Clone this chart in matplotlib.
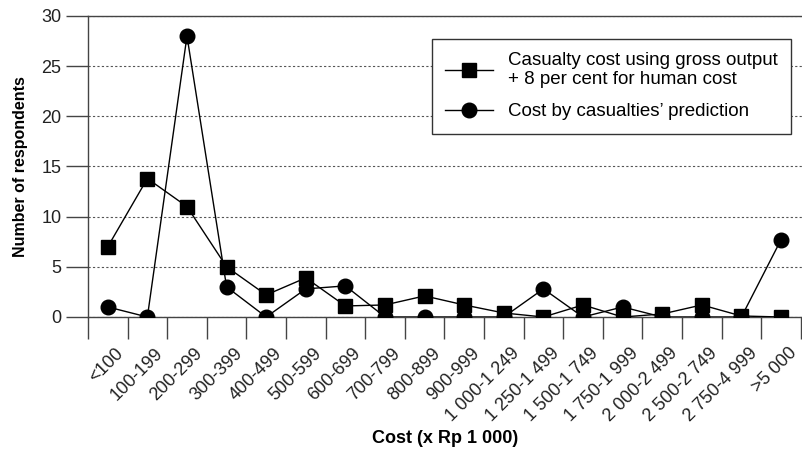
import matplotlib.pyplot as plt
from matplotlib.ticker import FixedLocator
from matplotlib.transforms import ScaledTranslation

plt.rcParams["font.family"] = ["Liberation Sans", "DejaVu Sans"]

categories = [
    "<100", "100-199", "200-299", "300-399", "400-499", "500-599",
    "600-699", "700-799", "800-899", "900-999", "1 000-1 249",
    "1 250-1 499", "1 500-1 749", "1 750-1 999", "2 000-2 499",
    "2 500-2 749", "2 750-4 999", ">5 000",
]
gross_output = [7, 13.8, 11, 5, 2.2, 3.9, 1.1, 1.2, 2.1, 1.2, 0.4,
                0, 1.2, 0, 0.3, 1.2, 0.1, 0]
casualty_pred = [1, 0, 28, 3, 0, 2.8, 3.1, 0, 0, 0, 0,
                 2.8, 0, 1, 0, 0, 0, 7.7]

label_gross = "Casualty cost using gross output\n+ 8 per cent for human cost"
label_pred = "Cost by casualties\u2019 prediction"

fig = plt.figure(figsize=(8.02, 4.49), dpi=100)
ax = fig.add_axes([0.1097, 0.294, 0.8903, 0.6704])

x = list(range(len(categories)))
ax.plot(x, gross_output, color="black", lw=1, marker="s", ms=9.5,
        label=label_gross, zorder=3)
ax.plot(x, casualty_pred, color="black", lw=1, marker="o", ms=10.5,
        label=label_pred, zorder=3)

ax.set_xlim(-0.5, 17.53)
ax.set_ylim(0, 30)
ax.set_yticks(range(0, 31, 5))
ax.yaxis.grid(True, linestyle=(0, (2, 2)), color="#555555", lw=0.8)
ax.set_axisbelow(True)

# category labels sit between the boundary ticks
ax.xaxis.set_major_locator(FixedLocator(x))
ax.set_xticklabels(categories, rotation=45, ha="right", va="top",
                   rotation_mode="anchor", fontsize=13, color="#222222")
ax.xaxis.set_minor_locator(FixedLocator([i + 0.5 for i in range(-1, 18)]))
ax.tick_params(axis="x", which="major", length=0, pad=20)
ax.tick_params(axis="x", which="minor", length=16, width=1, color="#444444")
ax.tick_params(axis="y", length=16, width=1, color="#444444", labelsize=13,
               labelcolor="#222222", pad=3)
for lab in ax.get_xticklabels():
    lab.set_transform(lab.get_transform() + ScaledTranslation(0.07, 0, fig.dpi_scale_trans))

for side in ["left", "bottom", "top"]:
    ax.spines[side].set_color("#444444")
    ax.spines[side].set_linewidth(1)
ax.spines["right"].set_visible(False)

ax.set_ylabel("Number of respondents", fontsize=11.5, fontweight="bold", labelpad=10)
ax.set_xlabel("Cost (x Rp 1 000)", fontsize=13, fontweight="bold")
ax.xaxis.set_label_coords(0.5, -0.375)

leg = ax.legend(loc="upper right", bbox_to_anchor=(0.985, 0.925), fontsize=13.5,
                frameon=True, fancybox=False, edgecolor="#333333",
                borderpad=0.7, labelspacing=0.8, handlelength=2.6,
                handletextpad=0.8, borderaxespad=0)
leg.get_frame().set_linewidth(1)
leg.get_frame().set_alpha(1)

fig.savefig("out.png", dpi=100)
